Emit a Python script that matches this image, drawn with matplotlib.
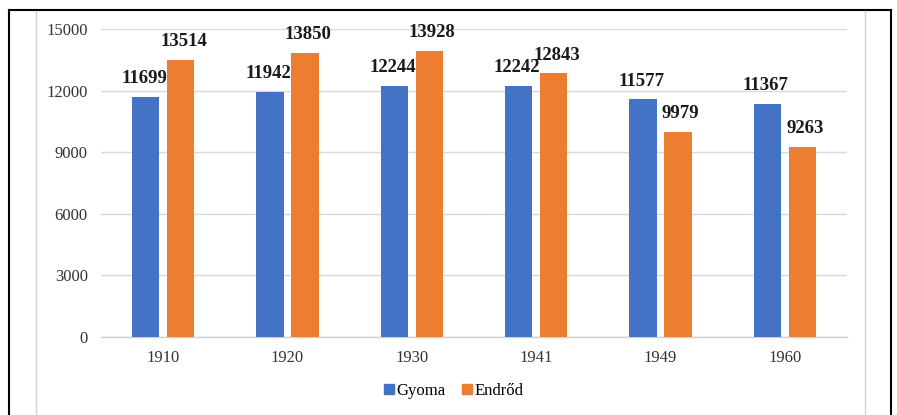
import matplotlib
matplotlib.use("Agg")
import matplotlib.pyplot as plt
import numpy as np
from matplotlib.patches import Rectangle
from matplotlib.lines import Line2D

years = ["1910", "1920", "1930", "1941", "1949", "1960"]
gyoma = [11699, 11942, 12244, 12242, 11577, 11367]
endrod = [13514, 13850, 13928, 12843, 9979, 9263]
series_names = ["Gyoma", "Endrőd"]
yticks = [0, 3000, 6000, 9000, 12000, 15000]

blue = "#4472C4"
orange = "#ED7D31"

plt.rcParams['font.family'] = ['Liberation Serif', 'DejaVu Serif']

fig = plt.figure(figsize=(8.97, 4.15), dpi=100)
ax = fig.add_axes([101/897, 1-337/415, (847-101)/897, (337-29)/415])

x = np.arange(len(years))
w = 0.218
off = 0.141
b1 = ax.bar(x - off, gyoma, w, color=blue, label=series_names[0], zorder=3)
b2 = ax.bar(x + off, endrod, w, color=orange, label=series_names[1], zorder=3)

for bars, vals, dx in ((b1, gyoma, -1), (b2, endrod, 2)):
    for r, v in zip(bars, vals):
        ax.annotate(str(v), (r.get_x() + r.get_width()/2, v), xytext=(dx, 7),
                    textcoords="offset points", ha="center", va="bottom",
                    fontsize=13.5, fontweight="bold", color="#1a1a1a")

ax.set_xlim(-0.5, len(years) - 0.5)
ax.set_ylim(0, 15000)
ax.set_yticks(yticks)
ax.set_yticklabels([str(t) for t in yticks])
ax.set_xticks(x)
ax.set_xticklabels(years)
ax.tick_params(axis="both", length=0, labelsize=12, colors="#333333")
ax.tick_params(axis="y", pad=9.5)
ax.tick_params(axis="x", pad=9)
ax.grid(axis="y", color="#d9d9d9", linewidth=1, zorder=0)
for s in ["top", "right", "left"]:
    ax.spines[s].set_visible(False)
ax.spines["bottom"].set_color("#d0d0d0")
ax.spines["bottom"].set_linewidth(1)

handles = [Rectangle((0, 0), 1, 1, color=blue), Rectangle((0, 0), 1, 1, color=orange)]
fig.legend(handles, series_names, loc="center", bbox_to_anchor=(454/897, 1-391/415),
           ncol=2, frameon=False, fontsize=12, handlelength=0.6, handleheight=0.6,
           handletextpad=0.15, columnspacing=1.0)

# outer frames
fig.add_artist(Line2D([8.5/897, 8.5/897], [0, 1-10/415], color="black", lw=1.5, transform=fig.transFigure))
fig.add_artist(Line2D([891/897, 891/897], [0, 1-10/415], color="black", lw=1.5, transform=fig.transFigure))
fig.add_artist(Line2D([8.5/897, 891/897], [1-10/415, 1-10/415], color="black", lw=1.5, transform=fig.transFigure))
fig.add_artist(Line2D([36/897, 36/897], [0, 1-11/415], color="#d0d0d0", lw=1, transform=fig.transFigure))
fig.add_artist(Line2D([865/897, 865/897], [0, 1-11/415], color="#d0d0d0", lw=1, transform=fig.transFigure))

fig.savefig("out.png", dpi=100)
